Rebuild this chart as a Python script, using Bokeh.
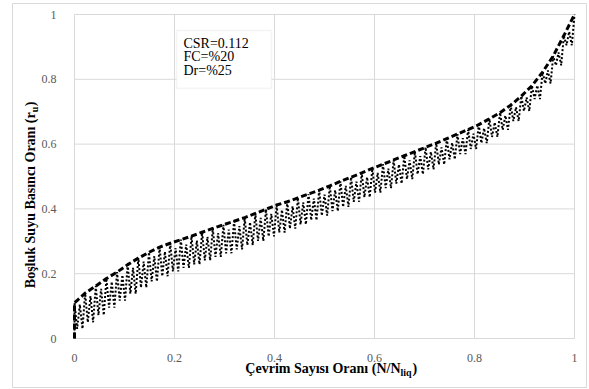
from bokeh.plotting import figure
from bokeh.models import Label, BoxAnnotation, FixedTicker, Range1d, LinearAxis
from bokeh.embed import file_html
from bokeh.resources import INLINE

# ---- data ----
n_liq = 47
cycles = list(range(0, 48))  # N, 0..Nliq
# upper envelope (peak r_u at each cycle N)
peak_ru = [0.11, 0.14, 0.162, 0.185, 0.205, 0.228, 0.248, 0.266, 0.282, 0.294,
           0.305, 0.316, 0.328, 0.340, 0.351, 0.362, 0.373, 0.386, 0.399, 0.412,
           0.422, 0.434, 0.446, 0.458, 0.471, 0.485, 0.498, 0.511, 0.525, 0.538,
           0.551, 0.564, 0.577, 0.590, 0.603, 0.617, 0.631, 0.645, 0.660, 0.678,
           0.697, 0.720, 0.748, 0.780, 0.822, 0.872, 0.935, 1.0]
# trough r_u within each cycle (two unloading dips per cycle)
trough_ru = [0.03, 0.05, 0.072, 0.095, 0.117, 0.138, 0.157, 0.176, 0.192, 0.207,
             0.218, 0.229, 0.241, 0.252, 0.263, 0.275, 0.288, 0.301, 0.315, 0.327,
             0.339, 0.352, 0.365, 0.379, 0.393, 0.406, 0.422, 0.436, 0.45, 0.464,
             0.478, 0.492, 0.507, 0.522, 0.537, 0.553, 0.569, 0.585, 0.603, 0.622,
             0.644, 0.671, 0.702, 0.739, 0.787, 0.843, 0.905]
# secondary peak in the middle of each cycle
mid_ru = [0.105, 0.131, 0.153, 0.175, 0.196, 0.218, 0.237, 0.254, 0.268, 0.279,
          0.29, 0.302, 0.314, 0.325, 0.336, 0.347, 0.359, 0.372, 0.385, 0.397,
          0.408, 0.42, 0.432, 0.444, 0.458, 0.471, 0.484, 0.498, 0.511, 0.524,
          0.537, 0.55, 0.563, 0.576, 0.59, 0.604, 0.618, 0.632, 0.649, 0.667,
          0.688, 0.714, 0.744, 0.781, 0.827, 0.883, 0.947]
x_ticks = [0, 0.2, 0.4, 0.6, 0.8, 1]
y_ticks = [0, 0.2, 0.4, 0.6, 0.8, 1]
info_lines = ["CSR=0.112", "FC=%20", "Dr=%25"]

# envelope line
env_x = [0.0] + [c / n_liq for c in cycles]
env_y = [0.0] + peak_ru
# oscillating (cyclic) line
osc_x, osc_y = [0.0], [0.0]
for c in cycles[:-1]:
    osc_x += [c / n_liq, (c + 0.25) / n_liq, (c + 0.5) / n_liq, (c + 0.75) / n_liq]
    osc_y += [peak_ru[c], trough_ru[c], mid_ru[c], trough_ru[c]]
osc_x.append(cycles[-1] / n_liq)
osc_y.append(peak_ru[-1])

SERIF = "Liberation Serif"
GRID = "#d9d9d9"

# frame fills the whole canvas; plot area 0..1 sits at 74..574 x, 14..338 y
p = figure(width=589, height=389, output_backend="svg", toolbar_location=None,
           x_range=Range1d(-0.148, 1.03), y_range=Range1d(-0.157407, 1.04321),
           x_axis_location=None, y_axis_location=None,
           min_border_left=0, min_border_right=0, min_border_top=0, min_border_bottom=0)
p.outline_line_color = None
p.background_fill_color = "white"
p.border_fill_color = "white"
p.xgrid.visible = False
p.ygrid.visible = False

# chart-area border
p.quad(left=[-0.124], right=[1.024], bottom=[-0.1512], top=[1.0339],
       fill_color=None, line_color=GRID, line_width=1)
# gridlines / plot-area border
p.segment(x0=x_ticks, x1=x_ticks, y0=[0] * len(x_ticks), y1=[1] * len(x_ticks),
          line_color=GRID, line_width=1)
p.segment(x0=[0] * len(y_ticks), x1=[1] * len(y_ticks), y0=y_ticks, y1=y_ticks,
          line_color=GRID, line_width=1)

xaxis = LinearAxis(fixed_location=0, bounds=(0, 1), ticker=FixedTicker(ticks=x_ticks))
yaxis = LinearAxis(fixed_location=0, bounds=(0, 1), ticker=FixedTicker(ticks=y_ticks))
for ax in (xaxis, yaxis):
    ax.axis_line_color = None
    ax.major_tick_line_color = None
    ax.minor_tick_line_color = None
    ax.major_label_text_font = SERIF
    ax.major_label_text_font_size = "12px"
    ax.major_label_text_color = "#595959"
    ax.major_label_overrides = {0: "0", 1: "1"}
xaxis.major_label_standoff = 9
yaxis.major_label_standoff = 12
p.add_layout(xaxis, "below")
p.add_layout(yaxis, "left")

p.line(osc_x, osc_y, line_color="black", line_width=2, line_dash="2 2")
p.line(env_x, env_y, line_color="black", line_width=3, line_dash="6 3")

# info box
p.add_layout(BoxAnnotation(left=0.204, right=0.394, bottom=0.772, top=0.951,
                           fill_color="white", fill_alpha=1.0,
                           line_color=GRID, line_width=1.5))
for i, t in enumerate(info_lines):
    p.add_layout(Label(x=0.218, y=[0.912, 0.871, 0.827][i], text=t,
                       text_font=SERIF, text_font_size="14px", text_color="black",
                       text_baseline="middle", text_align="left"))

def lab(**kw):
    base = dict(text_font=SERIF, text_font_style="bold", text_color="black",
                text_baseline="middle")
    base.update(kw)
    p.add_layout(Label(**base))

# x axis title with subscript
xa, xy = 0.652, -0.0926
lab(x=xa, y=xy, text="Çevrim Sayısı Oranı (N/N", text_font_size="14px", text_align="right")
lab(x=xa, y=xy, y_offset=-4, text="liq", text_font_size="10px", text_align="left")
lab(x=xa, y=xy, x_offset=12, text=")", text_font_size="14px", text_align="left")

# y axis title with subscript (rotated)
yx, ya = -0.088, 0.698
lab(x=yx, y=ya, text="Boşluk Suyu Basıncı Oranı (r", text_font_size="14px",
    text_align="right", angle=90, angle_units="deg")
lab(x=yx, y=ya, x_offset=4, text="u", text_font_size="10px", text_align="left",
    angle=90, angle_units="deg")
lab(x=yx, y=ya, y_offset=6, text=")", text_font_size="14px", text_align="left",
    angle=90, angle_units="deg")

open("out.html", "w").write(file_html(p, INLINE))
